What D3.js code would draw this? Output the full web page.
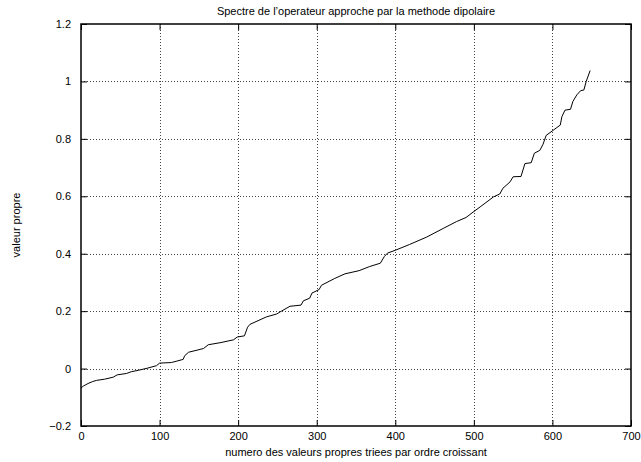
<!DOCTYPE html>
<html>
<head>
<meta charset="utf-8">
<script src="https://cdn.jsdelivr.net/npm/d3@7"></script>
<style>
  body { margin: 0; background: #fff; }
  text { font-family: "Liberation Sans", Arial, sans-serif; fill: #000; }
</style>
</head>
<body>
<div id="chart"></div>
<script>
// sorted eigenvalues (index, value)
const idx = [0, 3, 9, 15, 20, 30, 41, 46, 58, 64, 73, 84, 96, 100, 115, 122, 130, 132, 137, 149,
  156, 162, 177, 194, 199, 208, 212, 215, 236, 249, 255, 266, 280, 283, 291, 294, 303, 306, 323, 336,
  354, 367, 381, 386, 390, 400, 418, 440, 461, 478, 490, 499, 508, 525, 533, 537, 546, 550, 560, 565,
  573, 577, 584, 588, 592, 601, 610, 612, 616, 623, 626, 631, 636, 640, 643, 648];
const vals = [-0.068, -0.061, -0.052, -0.045, -0.041, -0.037, -0.030, -0.022, -0.017, -0.011, -0.006, 0.001, 0.010, 0.019, 0.021, 0.026, 0.032, 0.045, 0.057, 0.065,
  0.070, 0.083, 0.090, 0.100, 0.110, 0.114, 0.144, 0.154, 0.180, 0.190, 0.200, 0.217, 0.221, 0.236, 0.245, 0.263, 0.275, 0.290, 0.314, 0.330,
  0.341, 0.355, 0.367, 0.390, 0.402, 0.412, 0.432, 0.458, 0.488, 0.512, 0.526, 0.545, 0.563, 0.598, 0.608, 0.628, 0.650, 0.668, 0.669, 0.714,
  0.717, 0.750, 0.760, 0.781, 0.812, 0.830, 0.848, 0.877, 0.900, 0.903, 0.930, 0.953, 0.968, 0.970, 1.000, 1.038];

const xTicks = [0, 100, 200, 300, 400, 500, 600, 700];
const yTicks = [-0.2, 0, 0.2, 0.4, 0.6, 0.8, 1, 1.2];

const margin = { top: 24, right: 10, bottom: 36, left: 81 };
const width = 641 - margin.left - margin.right;
const height = 462 - margin.top - margin.bottom;

const data = idx.map((d, i) => ({ i: d, v: vals[i] }));

const x = d3.scaleLinear().domain([0, 700]).range([0, width]);
const y = d3.scaleLinear().domain([-0.2, 1.2]).range([height, 0]);

const svg = d3.select("#chart").append("svg")
    .attr("width", 641)
    .attr("height", 462);

const g = svg.append("g")
    .attr("transform", `translate(${margin.left},${margin.top})`);

// grid (dotted)
g.selectAll(".vgrid")
    .data(xTicks.slice(1, -1))
    .enter().append("line")
    .attr("x1", d => Math.round(x(d)) + 0.5)
    .attr("x2", d => Math.round(x(d)) + 0.5)
    .attr("y1", 0)
    .attr("y2", height)
    .attr("stroke", "#444")
    .attr("stroke-width", 1)
    .attr("stroke-dasharray", "1,2");

g.selectAll(".hgrid")
    .data(yTicks.slice(1, -1))
    .enter().append("line")
    .attr("x1", 0)
    .attr("x2", width)
    .attr("y1", d => Math.round(y(d)) + 0.5)
    .attr("y2", d => Math.round(y(d)) + 0.5)
    .attr("stroke", "#444")
    .attr("stroke-width", 1)
    .attr("stroke-dasharray", "1,2");

// axes: ticks point inward, on all four sides
g.append("g")
    .attr("transform", `translate(0,${height})`)
    .call(d3.axisBottom(x).tickValues(xTicks).tickSize(-6).tickPadding(6).tickFormat(d3.format("d")))
    .call(a => a.select(".domain").remove())
    .call(a => a.selectAll("text").style("font-size", "11px"));

g.append("g")
    .call(d3.axisTop(x).tickValues(xTicks).tickSize(-6).tickFormat(""))
    .call(a => a.select(".domain").remove());

g.append("g")
    .call(d3.axisLeft(y).tickValues(yTicks).tickSize(-6).tickPadding(10).tickFormat(d => d3.format("")(+d.toFixed(1))))
    .call(a => a.select(".domain").remove())
    .call(a => a.selectAll("text").style("font-size", "11px"));

g.append("g")
    .attr("transform", `translate(${width},0)`)
    .call(d3.axisRight(y).tickValues(yTicks).tickSize(-6).tickFormat(""))
    .call(a => a.select(".domain").remove());

// frame
g.append("rect")
    .attr("x", 0)
    .attr("y", 0)
    .attr("width", width)
    .attr("height", height)
    .attr("fill", "none")
    .attr("stroke", "#000")
    .attr("stroke-width", 1.5);

// the spectrum
const line = d3.line()
    .x(d => x(d.i))
    .y(d => y(d.v));

g.append("path")
    .datum(data)
    .attr("fill", "none")
    .attr("stroke", "#000")
    .attr("stroke-width", 1)
    .attr("d", line);

// title and labels
svg.append("text")
    .attr("x", margin.left + width / 2)
    .attr("y", 15)
    .attr("text-anchor", "middle")
    .style("font-size", "11px")
    .text("Spectre de l\u2019operateur approche par la methode dipolaire");

svg.append("text")
    .attr("x", margin.left + width / 2)
    .attr("y", 456)
    .attr("text-anchor", "middle")
    .style("font-size", "11px")
    .text("numero des valeurs propres triees par ordre croissant");

svg.append("text")
    .attr("transform", "rotate(-90)")
    .attr("x", -225)
    .attr("y", 20)
    .attr("text-anchor", "middle")
    .style("font-size", "11px")
    .text("valeur propre");
</script>
</body>
</html>
